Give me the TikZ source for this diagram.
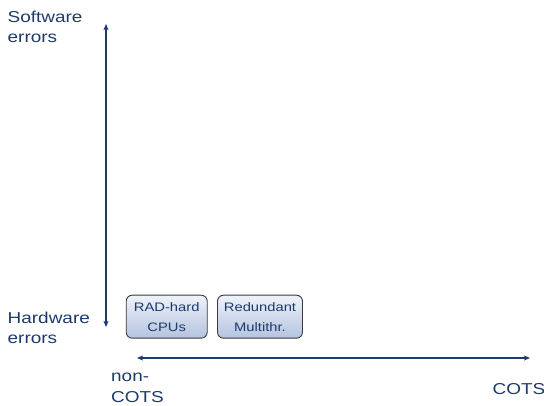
\documentclass[tikz,border=0pt]{standalone}
\usepackage{fontspec}
\setmainfont{Liberation Sans}[FakeStretch=1.2]
\usetikzlibrary{arrows.meta}
\definecolor{navy}{HTML}{1C3B6A}
\definecolor{boxtop}{HTML}{EEF2FA}
\definecolor{boxbot}{HTML}{B4C3DF}
\definecolor{boxline}{HTML}{3A3A3A}
\begin{document}
\begin{tikzpicture}[x=1pt,y=-1pt,
  axis/.style={draw=navy,line width=1.2pt,{Stealth[length=6pt,width=5pt,inset=1.5pt]}-{Stealth[length=6pt,width=5pt,inset=1.5pt]}},
  lbl/.style={text=navy,inner sep=0pt,align=left,font=\fontsize{15.8}{20.8}\selectfont},
  tech/.style={draw=boxline,line width=0.9pt,rounded corners=6pt,top color=boxtop,bottom color=boxbot,
    text=navy,align=center,inner sep=0pt,minimum height=43pt,font=\fontsize{12.3}{20}\selectfont}]
\useasboundingbox (0,0) rectangle (544,406);

% axis end points
\coordinate (vtop) at (106,24);
\coordinate (vbot) at (106,327);
\coordinate (hleft) at (137,358);
\coordinate (hright) at (530,358);

\draw[axis] (vbot) -- (vtop);
\draw[axis] (hleft) -- (hright);

% axis labels (base anchor sits on the last line)
\node[lbl,anchor=base west] (sw) at (7.5,43) {Software\\errors};
\node[lbl,anchor=base west] (hw) at (7.5,344) {Hardware\\errors};
\node[lbl,anchor=base west] (nc) at (111,402.3) {non-\\COTS};
\node[lbl,anchor=base west] (cots) at (492.5,394.3) {COTS};

% technique boxes
\node[tech,minimum width=81pt] (rad) at (166.7,316.7) {RAD-hard\\CPUs};
\node[tech,minimum width=85pt] (red) at (260,316.7) {Redundant\\Multithr.};
\end{tikzpicture}
\end{document}
